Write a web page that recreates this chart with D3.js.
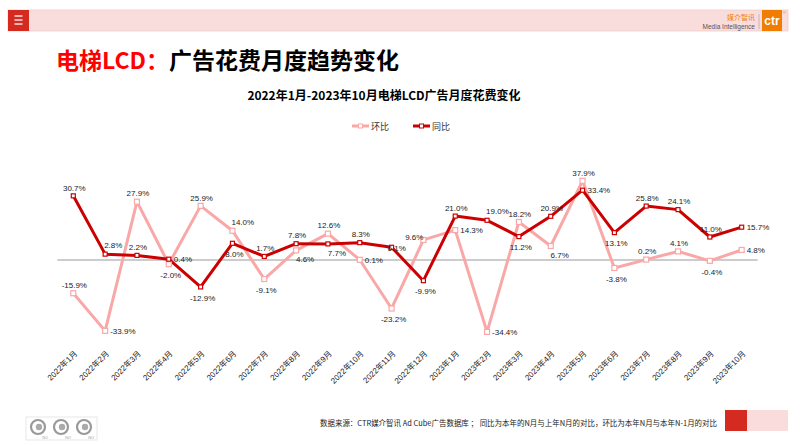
<!DOCTYPE html>
<html><head><meta charset="utf-8">
<script src="https://cdn.jsdelivr.net/npm/d3@7/dist/d3.min.js"></script>
<style>
html,body{margin:0;padding:0;background:#fff;}
svg{display:block;font-family:"Liberation Sans",Arial,"Noto Sans CJK SC",sans-serif;}
</style></head>
<body>
<svg id="chart" width="800" height="445"></svg>
<script>
// ---- data ----
const months = ["2022年1月","2022年2月","2022年3月","2022年4月","2022年5月","2022年6月","2022年7月","2022年8月","2022年9月","2022年10月","2022年11月","2022年12月","2023年1月","2023年2月","2023年3月","2023年4月","2023年5月","2023年6月","2023年7月","2023年8月","2023年9月","2023年10月"];
const momValues = [-15.9,-33.9,27.9,-2.0,25.9,14.0,-9.1,4.6,12.6,0.1,-23.2,9.6,14.3,-34.4,18.2,6.7,37.9,-3.8,0.2,4.1,-0.4,4.8];   // 环比
const yoyValues = [30.7,2.8,2.2,0.4,-12.9,8.0,1.7,7.8,7.7,8.3,6.1,-9.9,21.0,19.0,11.2,20.9,33.4,13.1,25.8,24.1,11.0,15.7];       // 同比
const momLabelPos = ["t","r","t","b","t","tr","b","br","t","r","b","l","r","r","t","br","t","b","t","t","b","r"];
const yoyLabelPos = ["t","tr","t","r","b","b","t","t","br","t","o","b","t","tr","b","t","r","b","t","t","t","r"];
const seriesNames = ["环比","同比"];
const pageTitleRed = "电梯LCD：";
const pageTitleBlack = "广告花费月度趋势变化";
const chartTitle = "2022年1月-2023年10月电梯LCD广告月度花费变化";
const footnote = "数据来源：CTR媒介智讯 Ad Cube广告数据库 ；  同比为本年的N月与上年N月的对比，环比为本年N月与本年N-1月的对比";

const RED = "#CC0000", PINK = "#F9A7A7";
const svg = d3.select("#chart");

// ---- header ----
svg.append("rect").attr("x",8).attr("y",10).attr("width",780).attr("height",21).attr("fill","#F9DCDC").attr("stroke","#F3CACA").attr("stroke-width",0.8);
svg.append("rect").attr("x",8).attr("y",10).attr("width",21).attr("height",21).attr("fill","#D42A20");
[16,20,24].forEach(yy=>svg.append("line").attr("x1",14.5).attr("x2",22.5).attr("y1",yy).attr("y2",yy).attr("stroke","#fff").attr("stroke-width",1.3));
svg.append("text").attr("x",755).attr("y",20).attr("text-anchor","end").attr("font-size",7).attr("fill","#F07C00").attr("font-family","Noto Sans CJK SC").text("媒介智讯");
svg.append("text").attr("x",755).attr("y",28.5).attr("text-anchor","end").attr("font-size",6.5).attr("fill","#555").text("Media Intelligence");
svg.append("line").attr("x1",759).attr("x2",759).attr("y1",14).attr("y2",29).attr("stroke","#aaa").attr("stroke-width",0.7);
svg.append("rect").attr("x",762).attr("y",10).attr("width",20).attr("height",21).attr("fill","#F07C00");
svg.append("text").attr("x",772).attr("y",25).attr("text-anchor","middle").attr("font-size",12).attr("font-weight","bold").attr("fill","#fff").text("ctr");
svg.append("text").attr("x",783).attr("y",14).attr("font-size",4).attr("fill","#F07C00").text("®");

// ---- page title ----
const pt = svg.append("text").attr("x",56).attr("y",69).attr("font-size",23).attr("font-weight","bold").attr("font-family","'Noto Sans CJK SC',sans-serif");
pt.append("tspan").attr("fill","#FF0000").text(pageTitleRed);
pt.append("tspan").attr("fill","#000").text(pageTitleBlack);

// ---- chart title ----
svg.append("text").attr("x",384).attr("y",100).attr("text-anchor","middle").attr("font-size",12).attr("font-weight","bold").attr("font-family","'Noto Sans CJK SC',sans-serif").attr("fill","#000").text(chartTitle);

// ---- legend ----
const legendItems = [{name:seriesNames[0],color:PINK,x:352},{name:seriesNames[1],color:RED,x:413}];
legendItems.forEach(it=>{
  svg.append("line").attr("x1",it.x).attr("x2",it.x+17).attr("y1",126).attr("y2",126).attr("stroke",it.color).attr("stroke-width",3);
  svg.append("rect").attr("x",it.x+6.5).attr("y",124).attr("width",4).attr("height",4).attr("fill","#fff").attr("stroke",it.color).attr("stroke-width",1);
  svg.append("text").attr("x",it.x+19).attr("y",129.5).attr("font-size",9).attr("fill","#333").attr("font-family","'Noto Sans CJK SC',sans-serif").text(it.name);
});

// ---- scales ----
const x = d3.scalePoint().domain(months).range([57.4,757.6]).padding(0.5);
const y = d3.scaleLinear().domain([-40,40]).range([343.6,176.4]);

// zero line
svg.append("line").attr("x1",57.4).attr("x2",757.6).attr("y1",y(0)).attr("y2",y(0)).attr("stroke","#999").attr("stroke-width",1);

// x axis labels
const xAxis = d3.axisBottom(x).tickSize(0).tickPadding(0);
const gx = svg.append("g").attr("transform",`translate(0,${352})`).call(xAxis);
gx.select(".domain").remove();
gx.selectAll("text").attr("font-size",8).attr("fill","#222").attr("font-family","'Liberation Sans','Noto Sans CJK SC',sans-serif")
  .attr("text-anchor","end").attr("dy","0.35em").attr("transform","translate(2,0) rotate(-45)").attr("x",0).attr("y",0);

// lines
const line = d3.line().x((d,i)=>x(months[i])).y(d=>y(d));
svg.append("path").datum(momValues).attr("d",line).attr("fill","none").attr("stroke",PINK).attr("stroke-width",3).attr("stroke-linejoin","round");
svg.append("path").datum(yoyValues).attr("d",line).attr("fill","none").attr("stroke",RED).attr("stroke-width",3).attr("stroke-linejoin","round");

// markers
svg.append("g").selectAll("rect").data(momValues).join("rect")
  .attr("x",(d,i)=>x(months[i])-2.5).attr("y",d=>y(d)-2.5).attr("width",5).attr("height",5)
  .attr("fill","#fff").attr("stroke",PINK).attr("stroke-width",1.2);
svg.append("g").selectAll("rect").data(yoyValues).join("rect")
  .attr("x",(d,i)=>x(months[i])-2).attr("y",d=>y(d)-2).attr("width",4).attr("height",4)
  .attr("fill","#fff").attr("stroke",RED).attr("stroke-width",1.2);

// labels
function place(pos){
  switch(pos){
    case "t": return {dx:1,dy:-8,anchor:"middle"};
    case "b": return {dx:2,dy:11,anchor:"middle"};
    case "r": return {dx:5,dy:0,anchor:"start"};
    case "l": return {dx:0,dy:-3,anchor:"end"};
    case "tr": return {dx:-1,dy:-9,anchor:"start"};
    case "br": return {dx:9,dy:9,anchor:"middle"};
    case "o": return {dx:-4,dy:1,anchor:"start"};
  }
}
function labels(vals,posArr){
  svg.append("g").selectAll("text").data(vals).join("text")
    .each(function(d,i){
      const p = place(posArr[i]);
      d3.select(this).attr("x",x(months[i])+p.dx).attr("y",y(d)+p.dy).attr("text-anchor",p.anchor);
    })
    .attr("dy","0.35em").attr("font-size",8).attr("fill","#222")
    .text(d=>d.toFixed(1)+"%");
}
labels(momValues,momLabelPos);
labels(yoyValues,yoyLabelPos);

// ---- footer ----
svg.append("text").attr("x",320).attr("y",425.5).attr("font-size",7.5).attr("fill","#222").attr("font-family","'Noto Sans CJK SC',sans-serif")
  .attr("textLength",397).attr("lengthAdjust","spacingAndGlyphs").text(footnote);
svg.append("rect").attr("x",725).attr("y",410).attr("width",22).attr("height",21).attr("fill","#D42A20");
svg.append("rect").attr("x",747).attr("y",410).attr("width",41).attr("height",21).attr("fill","#FADCDC");
svg.append("rect").attr("x",26).attr("y",417).attr("width",71).attr("height",23).attr("fill","#fff").attr("stroke","#ddd").attr("stroke-width",0.7);
[38,61,84].forEach(cx=>{
  svg.append("circle").attr("cx",cx).attr("cy",427).attr("r",7).attr("fill","none").attr("stroke","#999").attr("stroke-width",2.2);
  svg.append("circle").attr("cx",cx+1).attr("cy",427).attr("r",3.2).attr("fill","#aaa");
  svg.append("text").attr("x",cx+4).attr("y",438.5).attr("font-size",3.5).attr("fill","#999").text("ISO");
});
</script>
</body></html>
